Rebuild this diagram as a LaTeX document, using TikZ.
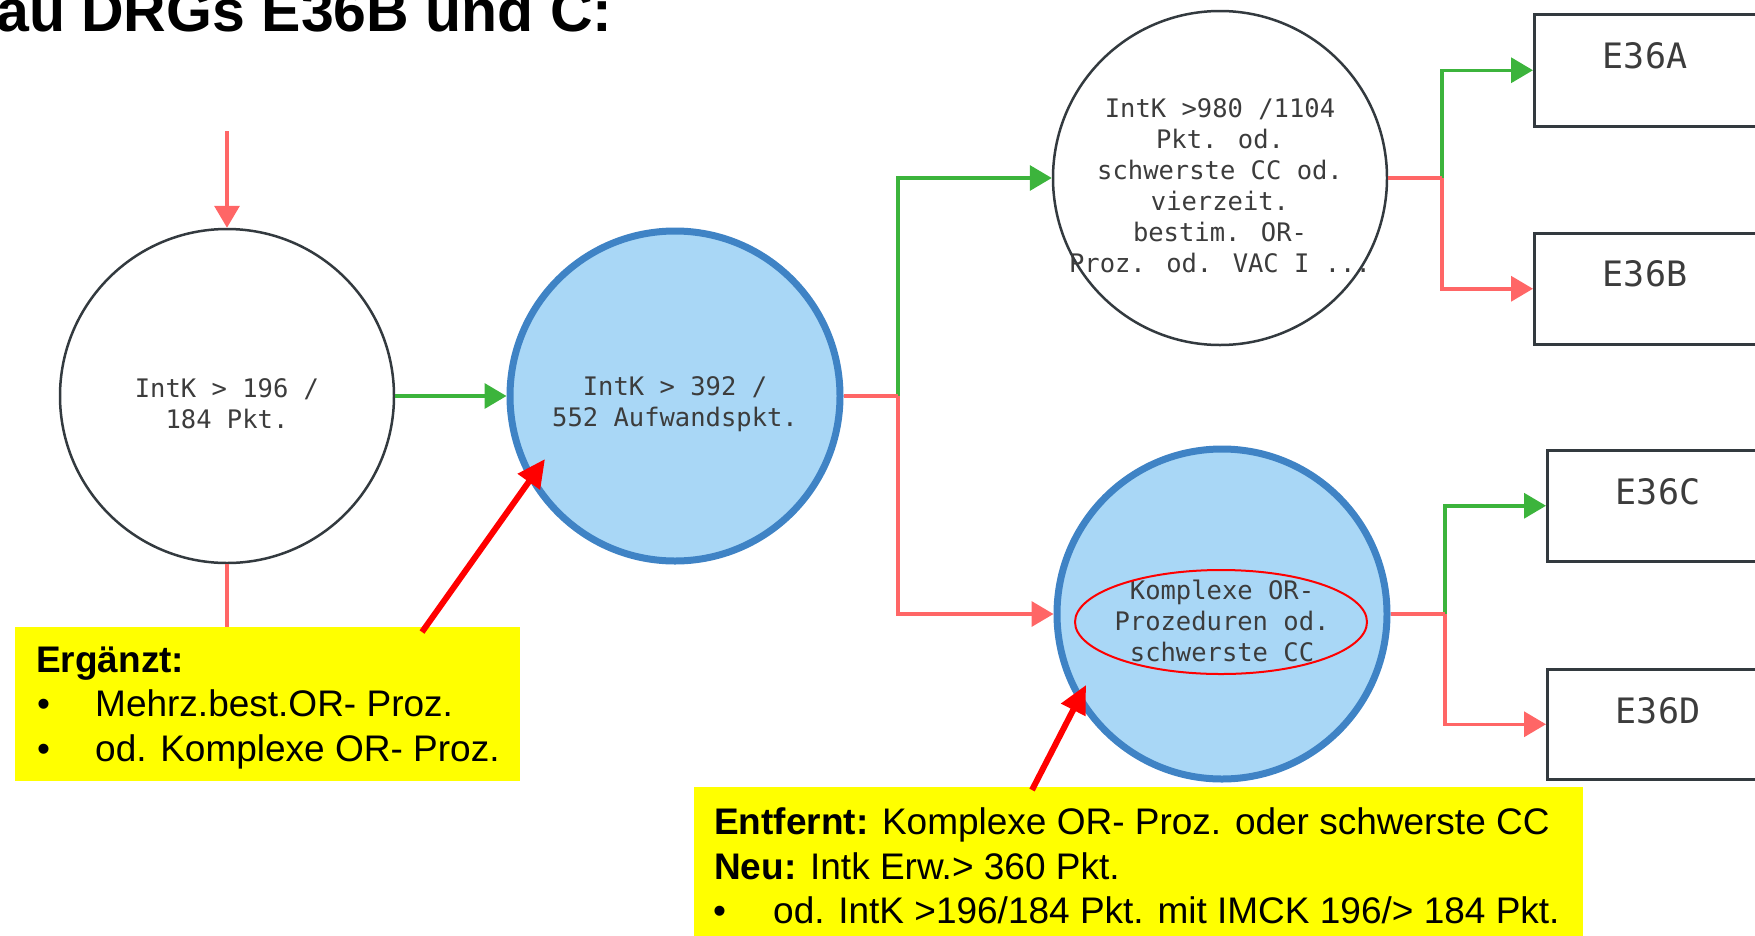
\documentclass[tikz,border=0pt]{standalone}
\usepackage{fontspec}
\setmainfont{Liberation Sans}
\newfontfamily\monofont{DejaVu Sans Mono}
\usetikzlibrary{arrows.meta,shapes.geometric}
\definecolor{salmon}{HTML}{FF6666}
\definecolor{grn}{HTML}{3CB43C}
\definecolor{bfill}{HTML}{A9D7F6}
\definecolor{bdraw}{HTML}{3F83C5}
\definecolor{dk}{HTML}{333A3F}
\definecolor{txt}{HTML}{3C3C3C}
\definecolor{yel}{HTML}{FFFF00}
\begin{document}
\begin{tikzpicture}[x=1pt,y=-1pt,
  ctext/.style={align=center,font=\monofont\fontsize{25.5}{31}\selectfont,text=txt,inner sep=0pt,yshift=-8pt},
  wcirc/.style={circle,draw=dk,line width=2.5pt,fill=white,minimum size=334pt,inner sep=0pt},
  bcirc/.style={circle,draw=bdraw,line width=7pt,fill=bfill,minimum size=330pt,inner sep=0pt},
  dbox/.style={rectangle,draw=dk,line width=2.5pt,fill=white,minimum width=320pt,anchor=north west},
  btxt/.style={font=\monofont\fontsize{35}{35}\selectfont,text=txt,inner sep=0pt},
  gline/.style={draw=grn,line width=3.5pt},
  rline/.style={draw=salmon,line width=3.5pt},
  tip/.style={-{Triangle[length=22pt,width=25pt]}},
  ybox/.style={rectangle,fill=yel,draw=none,anchor=north west,inner sep=0pt},
  ltxt/.style={anchor=base west,inner sep=0pt,font=\fontsize{37}{44}\selectfont},
  redarrow/.style={draw=red,line width=6pt,-{Triangle[length=28pt,width=26pt]}},
  hilite/.style={ellipse,draw=red,line width=2pt,minimum width=292pt,minimum height=104pt,inner sep=0pt}
]
\useasboundingbox (0,0) rectangle (1755,935);
\clip (0,0) rectangle (1755,935);

% title
\node[anchor=base west,inner sep=0pt,font=\bfseries\fontsize{59}{59}\selectfont] (title) at (-4,31) {au DRGs E36B und C:};

% circles
\node[wcirc,label={[ctext]center:{IntK > 196 /\\184 Pkt.}}] (c1) at (227,396) {};
\node[bcirc,label={[ctext]center:{IntK > 392 /\\552 Aufwandspkt.}}] (c2) at (675,396) {};
\node[wcirc,label={[ctext]center:{IntK >980 /1104\\Pkt. od.\\schwerste CC od.\\vierzeit.\\bestim. OR-\\Proz. od. VAC I ...}}] (c3) at (1220,178) {};
\node[bcirc,label={[ctext,yshift=1pt]center:{Komplexe OR-\\Prozeduren od.\\schwerste CC}}] (c4) at (1222,614) {};

% boxes
\node[dbox,minimum height=112pt] (ea) at (1533,13) {};
\node[dbox,minimum height=111pt] (eb) at (1533,232) {};
\node[dbox,minimum height=111pt] (ec) at (1546,449) {};
\node[dbox,minimum height=110pt] (ed) at (1546,668) {};
\node[btxt] (ta) at (1645,56) {E36A};
\node[btxt] (tb) at (1645,274) {E36B};
\node[btxt] (tc) at (1658,492) {E36C};
\node[btxt] (td) at (1658,711) {E36D};

% connectors
\coordinate (top1) at (227,131);
\coordinate (bot1) at (227,660);
\draw[rline,tip] (top1) -- (c1.north);
\draw[rline] (c1.south) -- (bot1);
\draw[gline,tip] (c1.east) -- (c2.west);

\coordinate (j1) at (898,396);
\draw[gline,tip] (j1) |- (c3.west);
\draw[rline,tip] (j1) |- (c4.west);
\draw[rline] (c2.east) -- (j1);

\coordinate (j2) at (1442,178);
\draw[gline,tip] (j2) |- (ea.west);
\draw[rline,tip] (j2) |- (eb.west);
\draw[rline] (c3.east) -- (j2);

\coordinate (j3) at (1445,614);
\draw[gline,tip] (j3) |- (ec.west);
\draw[rline,tip] (j3) |- (ed.west);
\draw[rline] (c4.east) -- (j3);

% highlight ellipse
\node[hilite] (hl) at (1221,622) {};

% yellow notes
\node[ybox,minimum width=505pt,minimum height=154pt] (y1) at (15,627) {};
\node[ltxt] (y1a) at (36,672) {\textbf{Ergänzt:}};
\node[ltxt] (y1b) at (37,716) {\makebox[58pt][l]{•}Mehrz.best.OR- Proz.};
\node[ltxt] (y1c) at (37,761) {\makebox[58pt][l]{•}od. Komplexe OR- Proz.};

\node[ybox,minimum width=889pt,minimum height=160pt] (y2) at (694,787) {};
\node[ltxt] (y2a) at (714,834) {\textbf{Entfernt:} Komplexe OR- Proz. oder schwerste CC};
\node[ltxt] (y2b) at (714,879) {\textbf{Neu:} Intk Erw.> 360 Pkt.};
\node[ltxt] (y2c) at (713,923) {\makebox[60pt][l]{•}od. IntK >196/184 Pkt. mit IMCK 196/> 184 Pkt.};

% red pointer arrows
\coordinate (a1s) at (422,632);
\coordinate (a1e) at (545,459);
\draw[redarrow] (a1s) -- (a1e);
\coordinate (a2s) at (1032,790);
\coordinate (a2e) at (1086,685);
\draw[redarrow] (a2s) -- (a2e);
\end{tikzpicture}
\end{document}
